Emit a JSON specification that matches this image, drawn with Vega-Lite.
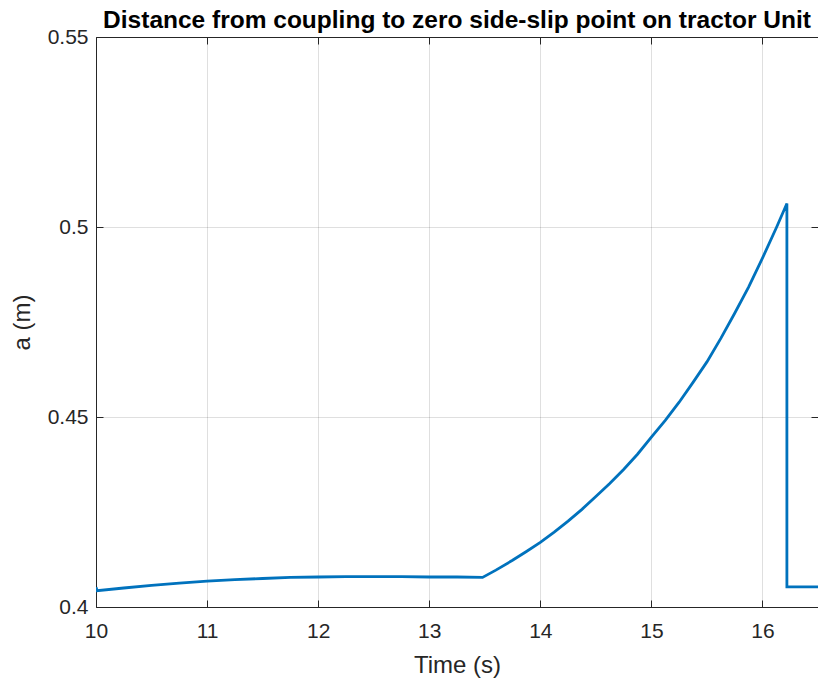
{
  "$schema": "https://vega.github.io/schema/vega-lite/v6.json",
  "width": 722,
  "height": 570,
  "autosize": {"type": "none"},
  "padding": {"left": 96, "top": 37, "right": 0, "bottom": 75},
  "background": "white",
  "config": {
    "view": {"stroke": null},
    "font": "Liberation Sans",
    "axis": {
      "domainColor": "#262626",
      "tickColor": "#262626",
      "labelColor": "#262626",
      "titleColor": "#262626",
      "labelFont": "Liberation Sans",
      "titleFont": "Liberation Sans",
      "labelFontSize": 21,
      "titleFontSize": 24,
      "titleFontWeight": "normal",
      "gridColor": "#262626",
      "gridOpacity": 0.15,
      "tickSize": -7,
      "domainWidth": 1,
      "tickWidth": 1,
      "labelFlush": false
    }
  },
  "title": {
    "text": "Distance from coupling to zero side-slip point on tractor Unit",
    "font": "Liberation Sans",
    "fontSize": 24.5,
    "fontWeight": "bold",
    "color": "#000000",
    "anchor": "middle",
    "baseline": "alphabetic",
    "offset": 0,
    "dy": 26
  },
  "data": {
    "values": [
      {"i": 0, "t": 10.0, "a": 0.4052},
      {"i": 1, "t": 10.01, "a": 0.4043},
      {"i": 2, "t": 10.25, "a": 0.405},
      {"i": 3, "t": 10.5, "a": 0.4057},
      {"i": 4, "t": 10.75, "a": 0.4063},
      {"i": 5, "t": 11.0, "a": 0.4068},
      {"i": 6, "t": 11.25, "a": 0.4072},
      {"i": 7, "t": 11.5, "a": 0.4075},
      {"i": 8, "t": 11.75, "a": 0.4078},
      {"i": 9, "t": 12.0, "a": 0.4079},
      {"i": 10, "t": 12.25, "a": 0.408},
      {"i": 11, "t": 12.5, "a": 0.408},
      {"i": 12, "t": 12.75, "a": 0.408},
      {"i": 13, "t": 13.0, "a": 0.4079},
      {"i": 14, "t": 13.25, "a": 0.4079},
      {"i": 15, "t": 13.48, "a": 0.4078},
      {"i": 16, "t": 13.6, "a": 0.4097},
      {"i": 17, "t": 13.75, "a": 0.4123},
      {"i": 18, "t": 13.875, "a": 0.4146},
      {"i": 19, "t": 14.0, "a": 0.417},
      {"i": 20, "t": 14.125, "a": 0.4197},
      {"i": 21, "t": 14.25, "a": 0.4226},
      {"i": 22, "t": 14.375, "a": 0.4257},
      {"i": 23, "t": 14.5, "a": 0.4291},
      {"i": 24, "t": 14.625, "a": 0.4325},
      {"i": 25, "t": 14.75, "a": 0.4362},
      {"i": 26, "t": 14.875, "a": 0.4402},
      {"i": 27, "t": 15.0, "a": 0.4447},
      {"i": 28, "t": 15.125, "a": 0.4491},
      {"i": 29, "t": 15.25, "a": 0.4539},
      {"i": 30, "t": 15.375, "a": 0.4591},
      {"i": 31, "t": 15.5, "a": 0.4645},
      {"i": 32, "t": 15.625, "a": 0.4707},
      {"i": 33, "t": 15.75, "a": 0.4773},
      {"i": 34, "t": 15.875, "a": 0.4842},
      {"i": 35, "t": 16.0, "a": 0.4918},
      {"i": 36, "t": 16.125, "a": 0.4998},
      {"i": 37, "t": 16.22, "a": 0.5062},
      {"i": 38, "t": 16.22, "a": 0.4053},
      {"i": 39, "t": 16.5, "a": 0.4053}
    ]
  },
  "layer": [
    {
      "mark": {"type": "line", "color": "#0072BD", "strokeWidth": 2.8, "clip": true},
      "encoding": {
        "x": {
          "field": "t", "type": "quantitative",
          "scale": {"domain": [10, 16.5], "nice": false, "zero": false},
          "axis": {"title": "Time (s)", "values": [10, 11, 12, 13, 14, 15, 16], "grid": true, "labelPadding": 20, "titleY": 65, "titleBaseline": "alphabetic"}
        },
        "y": {
          "field": "a", "type": "quantitative",
          "scale": {"domain": [0.4, 0.55], "nice": false, "zero": false},
          "axis": {"title": "a (m)", "values": [0.4, 0.45, 0.5, 0.55], "format": "~g", "grid": true, "labelPadding": 15, "titleX": -62}
        },
        "order": {"field": "i", "type": "quantitative"}
      }
    },
    {
      "mark": {"type": "line", "opacity": 0, "clip": true},
      "encoding": {
        "x": {
          "field": "t", "type": "quantitative",
          "scale": {"domain": [10, 16.5], "nice": false, "zero": false},
          "axis": {"orient": "top", "title": null, "labels": false, "grid": false, "values": [10, 11, 12, 13, 14, 15, 16]}
        },
        "y": {
          "field": "a", "type": "quantitative",
          "scale": {"domain": [0.4, 0.55], "nice": false, "zero": false},
          "axis": {"orient": "right", "title": null, "labels": false, "grid": false, "values": [0.4, 0.45, 0.5, 0.55]}
        },
        "order": {"field": "i", "type": "quantitative"}
      }
    }
  ],
  "resolve": {"axis": {"x": "independent", "y": "independent"}}
}
